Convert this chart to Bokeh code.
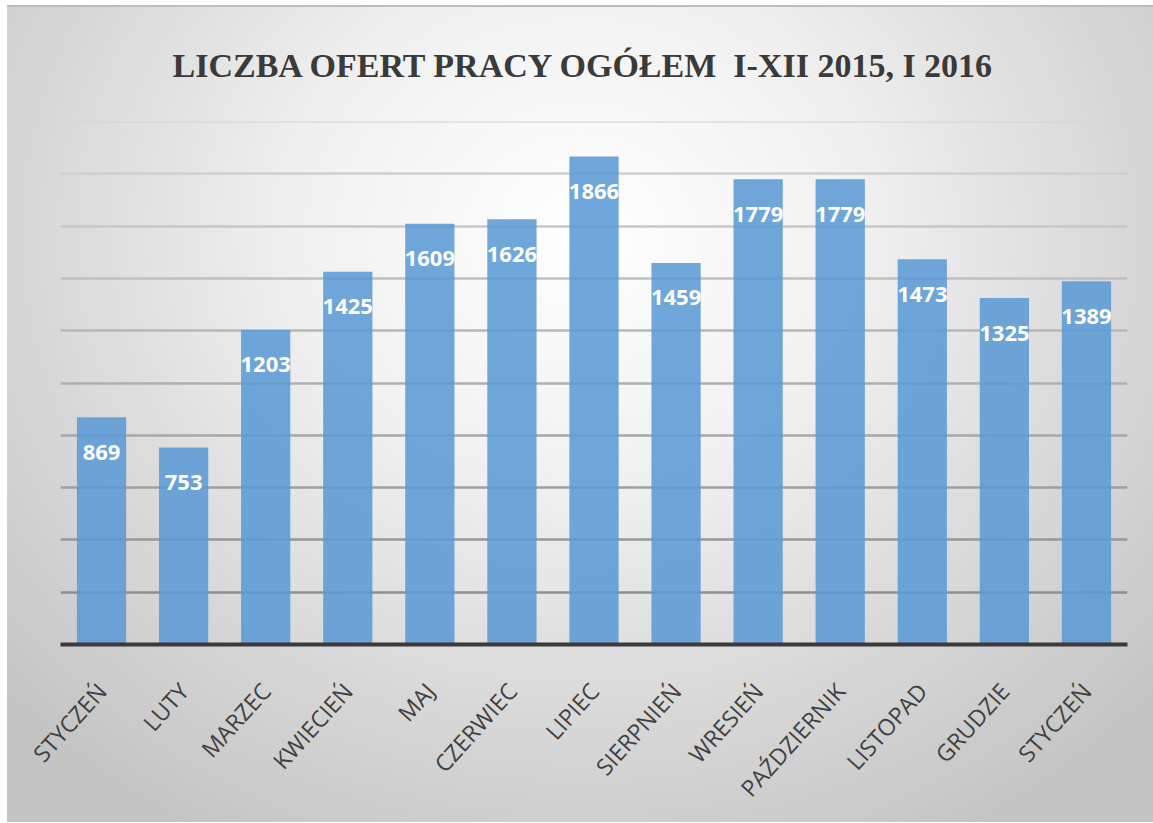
from bokeh.plotting import figure
from bokeh.models import Range1d, FixedTicker, Title, ColumnDataSource
from bokeh.core.properties import value
from bokeh.embed import file_html
from bokeh.resources import INLINE
import math

categories = ["STYCZEŃ", "LUTY", "MARZEC", "KWIECIEŃ", "MAJ", "CZERWIEC", "LIPIEC",
              "SIERPNIEŃ", "WRESIEŃ", "PAŹDZIERNIK", "LISTOPAD", "GRUDZIE", "STYCZEŃ"]
offers = [869, 753, 1203, 1425, 1609, 1626, 1866, 1459, 1779, 1779, 1473, 1325, 1389]
grid_values = [200, 400, 600, 800, 1000, 1200, 1400, 1600, 1800, 2000]
title_text = "LICZBA OFERT PRACY OGÓŁEM\u00a0 I-XII 2015, I 2016"

positions = list(range(1, len(categories) + 1))
source = ColumnDataSource(dict(x=positions, y=offers, label=[str(v) for v in offers]))

p = figure(width=1146, height=817, output_backend="svg", toolbar_location=None,
           x_range=Range1d(0.5, len(categories) + 0.5), y_range=Range1d(0, 2000),
           min_border_left=53, min_border_right=26, min_border_top=116, min_border_bottom=178)

p.background_fill_alpha = 0
p.border_fill_alpha = 0
p.outline_line_color = None
p.styles = {
    "background": "radial-gradient(ellipse 68% 85% at 50% 28%, #ffffff 0%, #f1f1f1 35%, #d8d8d8 70%, #c4c4c4 100%)",
    "box-shadow": "inset 0 2px 0 #bdbdbd",
    "margin-left": "7px",
    "margin-top": "5px",
}

t = Title(text=title_text, align="left", offset=112, vertical_align="bottom",
          text_font="Liberation Serif", text_font_size="34px", text_font_style="bold",
          text_color="#3a3a3a", standoff=76)
p.add_layout(t, "above")

# grid lines (lighter at top)
grid_colors = []
for gv in grid_values:
    f = gv / 2000.0
    c = int(135 + f * 80)
    grid_colors.append("#%02x%02x%02x" % (c, c, c))
p.hspan(y=grid_values, line_color=grid_colors, line_width=2.5)
p.xgrid.visible = False
p.ygrid.visible = False

p.vbar(x="x", top="y", width=0.6, source=source, fill_color="#5b9bd5", fill_alpha=0.88,
       line_color=None)

p.text(x="x", y="y", text="label", source=source, text_align="center", text_baseline="middle",
       y_offset=35, text_color="white", text_font=value("Open Sans"),
       text_font_size="22px", text_font_style="bold")

p.yaxis.visible = False
xa = p.xaxis[0]
xa.ticker = FixedTicker(ticks=positions)
xa.major_label_overrides = {i: c for i, c in zip(positions, categories)}
xa.major_label_orientation = math.radians(48)
xa.major_label_text_font = "Open Sans"
xa.major_label_text_font_size = "23px"
xa.major_label_text_color = "#404040"
xa.major_label_standoff = 36
xa.major_tick_line_color = None
xa.minor_tick_line_color = None
xa.axis_line_color = "#3a3a3a"
xa.axis_line_width = 4

open("out.html", "w").write(file_html(p, INLINE))
